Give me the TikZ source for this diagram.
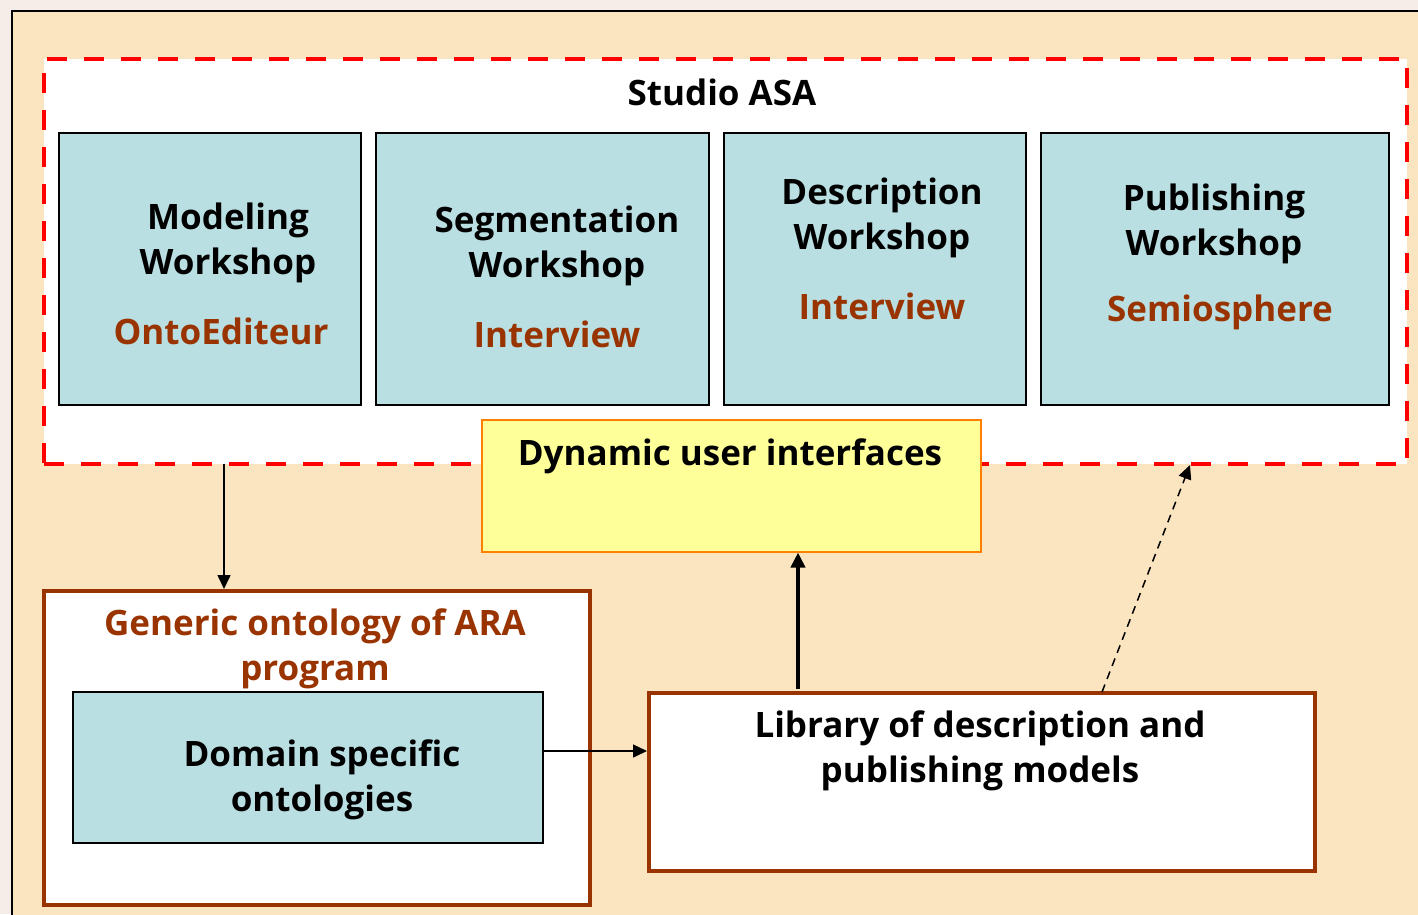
\documentclass[tikz,border=0pt]{standalone}
\usepackage{fontspec}
\setmainfont{Open Sans}
\usetikzlibrary{arrows.meta}
\definecolor{outerbg}{HTML}{F6ECE8}
\definecolor{wheatbg}{HTML}{FAE5C0}
\definecolor{ltblue}{HTML}{B9DFE2}
\definecolor{brownc}{HTML}{993300}
\definecolor{dyny}{HTML}{FFFF99}
\definecolor{dyno}{HTML}{FF7F00}
\begin{document}
\begin{tikzpicture}[x=1pt,y=-1pt,
  txt/.style={font=\fontsize{35}{45}\selectfont\bfseries, align=center, inner sep=0pt},
  brtxt/.style={txt, text=brownc},
  wsbox/.style={draw=black, line width=1.8pt, fill=ltblue, anchor=north west, inner sep=0pt},
  brbox/.style={draw=brownc, line width=3.5pt, fill=white, anchor=north west, inner sep=0pt},
  arr/.style={-{Triangle[length=14pt,width=13pt]}, line width=1.5pt}]
\useasboundingbox (0,0) rectangle (1418,914);
\fill[outerbg] (0,0) rectangle (1418,914);
\draw[fill=wheatbg, line width=2pt] (12,11) rectangle (1440,940);
% dashed studio frame
\node[draw=red, fill=white, line width=4pt, dash pattern=on 20pt off 17pt, anchor=north west, inner sep=0pt, minimum width=1363pt, minimum height=405pt] (studio) at (42,57) {};
\node[txt] (studiot) at (722,92) {Studio ASA};
% workshops
\node[wsbox, minimum width=302pt, minimum height=272pt] (mod) at (58,132) {};
\node[wsbox, minimum width=333pt, minimum height=272pt] (seg) at (375,132) {};
\node[wsbox, minimum width=302pt, minimum height=272pt] (desc) at (723,132) {};
\node[wsbox, minimum width=348pt, minimum height=272pt] (pub) at (1040,132) {};
\node[txt] (modt) at (228,243) {Modeling\\Workshop};
\node[brtxt] (modb) at (221,331) {OntoEditeur};
\node[txt] (segt) at (557,246) {Segmentation\\Workshop};
\node[brtxt] (segb) at (557,334) {Interview};
\node[txt] (desct) at (882,218) {Description\\Workshop};
\node[brtxt] (descb) at (882,306) {Interview};
\node[txt] (pubt) at (1214,224) {Publishing\\Workshop};
\node[brtxt] (pubb) at (1220,312) {Semiosphere};
% dynamic UI
\node[draw=dyno, fill=dyny, line width=1.5pt, anchor=north west, inner sep=0pt, minimum width=499pt, minimum height=132pt] (dyn) at (481,419) {};
\node[txt] (dynt) at (730,456) {Dynamic user interfaces};
% generic ontology
\node[brbox, minimum width=546pt, minimum height=314pt] (gen) at (42,589) {};
\node[brtxt] (gent) at (315,649) {Generic ontology of ARA\\program};
\node[wsbox, minimum width=470pt, minimum height=151pt] (dom) at (72,691) {};
\node[txt] (domt) at (322,780) {Domain specific\\ontologies};
% library
\node[brbox, minimum width=666pt, minimum height=178pt] (lib) at (647,691) {};
\node[txt] (libt) at (980,751) {Library of description and\\publishing models};
% connectors
\coordinate (a1) at (224,464);
\draw[arr] (a1) -- (a1 |- gen.north);
\coordinate (d1) at (542,751);
\draw[arr] (d1) -- (d1 -| lib.west);
\coordinate (b1) at (798,689);
\draw[-{Triangle[length=15pt,width=14pt]}, line width=4pt] (b1) -- (b1 |- dyn.south);
\coordinate (c1) at (1102,692);
\coordinate (c2) at (1190,465);
\draw[arr, dashed, line width=1.5pt, dash pattern=on 8pt off 6pt] (c1) -- (c2);
\end{tikzpicture}
\end{document}
